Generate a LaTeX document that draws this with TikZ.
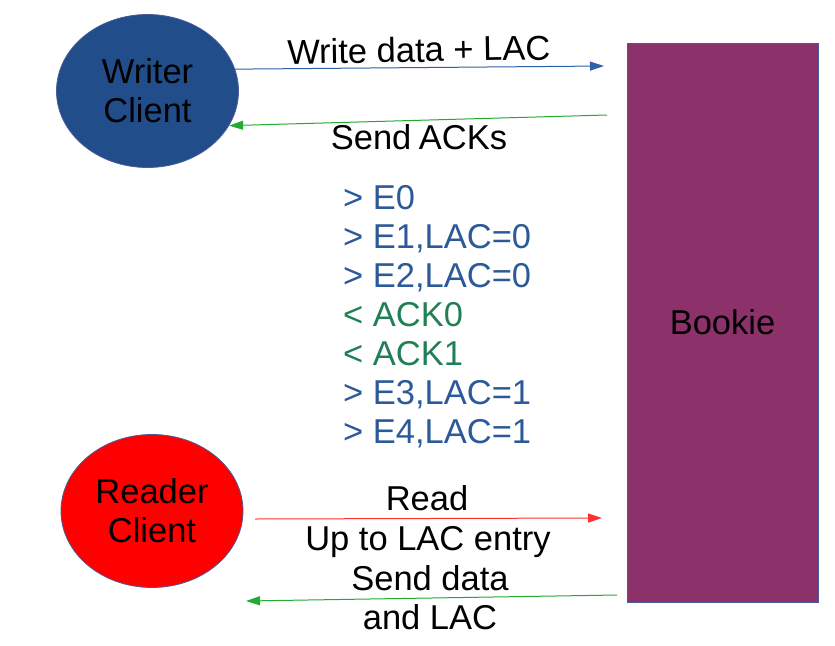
\documentclass[tikz,border=0pt]{standalone}
\usepackage{fontspec}
\setmainfont{Liberation Sans}
\usetikzlibrary{shapes.geometric,arrows.meta}

\definecolor{writerblue}{RGB}{33,78,138}
\definecolor{bookiepurple}{RGB}{140,49,106}
\definecolor{edgeblue}{RGB}{74,90,154}
\definecolor{msgblue}{RGB}{44,90,152}
\definecolor{msggreen}{RGB}{32,128,84}
\definecolor{arrowblue}{RGB}{48,96,168}
\definecolor{arrowgreen}{RGB}{34,170,51}
\definecolor{arrowred}{RGB}{255,48,48}

\tikzset{
  client/.style={ellipse, draw=edgeblue, line width=0.8pt, inner sep=0pt,
    minimum width=182pt, minimum height=153pt, align=center},
  msg/.style={-{Triangle[length=14pt,width=9pt]}, line width=1pt},
  lbl/.style={anchor=base, inner sep=0pt},
  entry/.style={anchor=base west, inner sep=0pt}
}

\begin{document}
\begin{tikzpicture}[x=1pt,y=-1pt,font=\fontsize{34.5}{39}\selectfont]
    \useasboundingbox (0,0) rectangle (835,645);

    % Clients
    \node[client, fill=writerblue] (writer) at (147.5,91) {Writer\\Client};
    \node[client, fill=red] (reader) at (152,511) {Reader\\Client};

    % Bookie
    \node[fill=bookiepurple, draw=edgeblue, line width=0.8pt, inner sep=0pt,
      minimum width=191pt, minimum height=559pt] (bookie) at (722.5,322.5) {Bookie};

    % arrow ends near the bookie
    \coordinate (wto) at (604,66);
    \coordinate (wback) at (607,115);
    \coordinate (rto) at (602,518);
    \coordinate (rback) at (617,595);
    \coordinate (rfrom) at (255,519);
    \coordinate (rdone) at (246,601);

    % writer <-> bookie
    \draw[msg, arrowblue] (writer.14) -- (wto);
    \draw[msg, arrowgreen] (wback) -- (writer.-23);
    \node[lbl, rotate=1] (wlabel) at (419,62) {Write data + LAC};
    \node[lbl] (acklabel) at (419,149) {Send\hspace{-2pt} ACKs};

    % message log
    \node[entry, msgblue] (m0) at (343,209) {> E0};
    \node[entry, msgblue] (m1) at (343,248) {> E1,LAC=0};
    \node[entry, msgblue] (m2) at (343,287) {> E2,LAC=0};
    \node[entry, msggreen] (m3) at (343,326) {< ACK0};
    \node[entry, msggreen] (m4) at (343,365) {< ACK1};
    \node[entry, msgblue] (m5) at (343,404) {> E3,LAC=1};
    \node[entry, msgblue] (m6) at (343,443) {> E4,LAC=1};

    % reader <-> bookie
    \draw[msg, arrowred] (rfrom) -- (rto);
    \draw[msg, arrowgreen] (rback) -- (rdone);
    \node[lbl] (rlabel) at (427,510) {Read};
    \node[lbl] (uplabel) at (428,550) {Up to LAC entry};
    \node[lbl] (dlabel) at (430,590) {Send data};
    \node[lbl] (alabel) at (430,629) {and LAC};
\end{tikzpicture}
\end{document}
